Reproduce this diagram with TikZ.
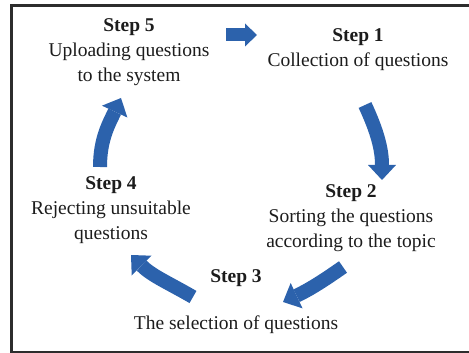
\documentclass[tikz,border=0pt]{standalone}
\usepackage{fontspec}
\setmainfont{Liberation Serif}
\usepackage{tikz}
\usetikzlibrary{arrows.meta}
\definecolor{stepblue}{RGB}{44,98,172}
\definecolor{framegray}{RGB}{45,45,45}
\definecolor{inkgray}{RGB}{28,28,28}

\begin{document}
\begin{tikzpicture}[x=1pt, y=1pt,
  steptext/.style={align=center, text=inkgray, inner sep=0pt,
    font=\fontsize{19.5}{25}\selectfont},
  blockarrow/.style={stepblue, line width=14pt,
    -{Triangle[width=28pt, length=15pt, line width=0pt]}}]
\useasboundingbox (0,0) rectangle (469,353);
\clip (0,0) rectangle (469,353);

% frame (cut off on the right)
\draw[framegray, line width=2.6pt] (11.5,-5) -- (11.5,347.3) -- (480,347.3);
\draw[framegray, line width=2.6pt] (11.5,1) -- (480,1);

% steps
\node[steptext] (s5) at (129,301) {\textbf{Step 5}\\Uploading questions\\to the system};
\node[steptext] (s1) at (358,303) {\textbf{Step 1}\\Collection of questions};
\node[steptext] (s2) at (351,135) {\textbf{Step 2}\\Sorting the questions\\according to the topic};
\node[steptext] (s3) at (236,51) {\textbf{Step 3}\\[22pt]The selection of questions};
\node[steptext] (s4) at (111,143) {\textbf{Step 4}\\Rejecting unsuitable\\questions};

% arrow ends
\coordinate (a51) at (226,318);
\coordinate (b51) at (257,318);
\coordinate (a12) at (365,248);
\coordinate (b12) at (382,173);
\coordinate (a23) at (343,86);
\coordinate (b23) at (283,51);
\coordinate (a34) at (193,56);
\coordinate (b34) at (131,98);
\coordinate (a45) at (100,186);
\coordinate (b45) at (121,255);

% cycle arrows
\draw[stepblue, line width=13pt, -{Triangle[width=23pt, length=12pt, line width=0pt]}] (a51) -- (b51);
\draw[blockarrow] (a12) to[out=-65, in=90] (b12);
\draw[blockarrow] (a23) to[out=215, in=25] (b23);
\draw[blockarrow] (a34) to[out=150, in=-45] (b34);
\draw[blockarrow] (a45) to[out=90, in=-115] (b45);
\end{tikzpicture}
\end{document}
